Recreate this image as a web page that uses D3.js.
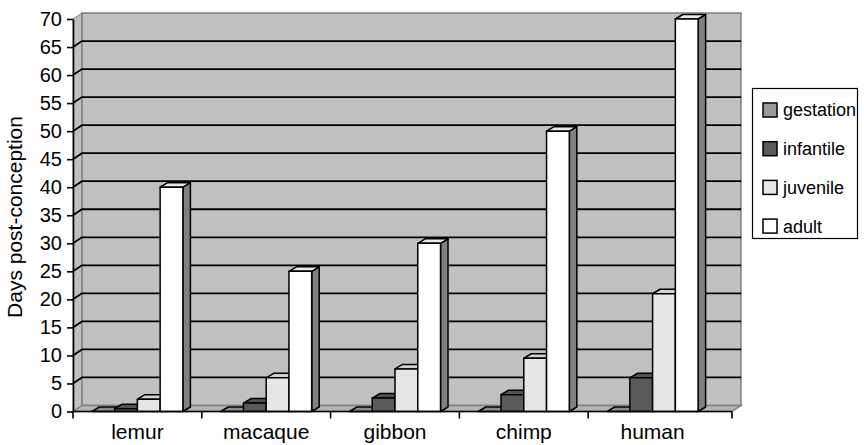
<!DOCTYPE html>
<html>
<head>
<meta charset="utf-8">
<script src="https://cdn.jsdelivr.net/npm/d3@7"></script>
<style>
  html, body { margin: 0; padding: 0; background: #fff; }
  svg { display: block; font-family: "Liberation Sans", Arial, Helvetica, sans-serif; }
</style>
</head>
<body>
<svg id="chart" width="864" height="445"></svg>
<script>
// Developmental stages (days post-conception) by primate
const categories = ["lemur", "macaque", "gibbon", "chimp", "human"];
const seriesNames = ["gestation", "infantile", "juvenile", "adult"];
const gestation = [0, 0, 0, 0, 0];
const infantile = [0.5, 1.5, 2.4, 3, 6];
const juvenile  = [2.2, 6, 7.6, 9.5, 21];
const adult     = [40, 25, 30, 50, 70];
const yTickValues = [0, 5, 10, 15, 20, 25, 30, 35, 40, 45, 50, 55, 60, 65, 70];

const seriesValues = [gestation, infantile, juvenile, adult];
const seriesColors = ["#9a9a9a", "#5a5a5a", "#e6e6e6", "#ffffff"];

const svg = d3.select("#chart");

// Plot frame (front plane) and 3-D depth offsets
const plotLeft = 73, bandRight = 717, floorRight = 732;
const wallDX = 9, wallDY = -6;     // back wall offset
const barDX = 7.5, barDY = -4.5;   // column depth

const y = d3.scaleLinear().domain([0, 70]).range([411.5, 19]);
const x0 = d3.scaleBand().domain(categories).range([plotLeft, bandRight]);
const x1 = d3.scaleBand().domain(seriesNames).range([0, x0.bandwidth()])
  .paddingInner(0).paddingOuter(0.83);

const yBase = y(0), yTop = y(70);

// Walls and floor
const walls = svg.append("g");
walls.append("polygon")
  .attr("points", [[plotLeft, yTop], [plotLeft + wallDX, yTop + wallDY], [plotLeft + wallDX, yBase + wallDY], [plotLeft, yBase]].join(" "))
  .attr("fill", "#c0c0c0").attr("stroke", "#808080").attr("stroke-width", 1);
walls.append("rect")
  .attr("x", plotLeft + wallDX).attr("y", yTop + wallDY)
  .attr("width", floorRight - plotLeft).attr("height", yBase - yTop)
  .attr("fill", "#c0c0c0").attr("stroke", "#808080").attr("stroke-width", 1.5);
walls.append("polygon")
  .attr("points", [[plotLeft, yBase], [floorRight, yBase], [floorRight + wallDX, yBase + wallDY], [plotLeft + wallDX, yBase + wallDY]].join(" "))
  .attr("fill", "#b4b4b4").attr("stroke", "#808080").attr("stroke-width", 1.5);

// Gridlines across side wall and back wall
walls.selectAll("path.grid")
  .data(yTickValues.filter(v => v > 0 && v < 70))
  .join("path")
  .attr("class", "grid")
  .attr("d", v => `M${plotLeft},${y(v)} L${plotLeft + wallDX},${y(v) + wallDY} L${floorRight + wallDX},${y(v) + wallDY}`)
  .attr("fill", "none").attr("stroke", "#000").attr("stroke-width", 1.8);

// 3-D columns: right side face, top face, front face
const bars = svg.append("g");
categories.forEach((cat, ci) => {
  seriesNames.forEach((s, si) => {
    const v = seriesValues[si][ci];
    const xa = x0(cat) + x1(s), xb = xa + x1.bandwidth();
    const yt = y(v);
    const c = d3.color(seriesColors[si]);
    const g = bars.append("g").attr("stroke", "#000").attr("stroke-width", 1.5).attr("stroke-linejoin", "round");
    g.append("polygon")
      .attr("points", [[xb, yt], [xb + barDX, yt + barDY], [xb + barDX, yBase + barDY], [xb, yBase]].join(" "))
      .attr("fill", c.darker(1.94).formatHex());
    g.append("polygon")
      .attr("points", [[xa, yt], [xb, yt], [xb + barDX, yt + barDY], [xa + barDX, yt + barDY]].join(" "))
      .attr("fill", c.darker(0.25).formatHex());
    if (yBase - yt > 0.5) {
      g.append("rect")
        .attr("x", xa).attr("y", yt).attr("width", xb - xa).attr("height", yBase - yt)
        .attr("fill", c.formatHex());
    }
  });
});

// Y axis
const yAxis = svg.append("g")
  .attr("transform", `translate(${plotLeft},0)`)
  .call(d3.axisLeft(y).tickValues(yTickValues).tickSize(6).tickSizeOuter(0).tickPadding(5));
yAxis.select(".domain").attr("stroke", "#000").attr("stroke-width", 1.6);
yAxis.selectAll(".tick line").attr("stroke", "#000").attr("stroke-width", 1.6);
yAxis.selectAll("text").attr("font-size", 20).attr("fill", "#000")
  .attr("font-family", "'Liberation Sans', Arial, sans-serif");

// X axis line, tick marks at category boundaries and floor end
svg.append("line")
  .attr("x1", plotLeft).attr("x2", floorRight).attr("y1", yBase).attr("y2", yBase)
  .attr("stroke", "#000").attr("stroke-width", 1.6);
const xTickPos = categories.map(c => x0(c)).concat([floorRight]);
svg.selectAll("line.xtick").data(xTickPos).join("line")
  .attr("class", "xtick")
  .attr("x1", d => d).attr("x2", d => d).attr("y1", yBase).attr("y2", yBase + 7)
  .attr("stroke", "#000").attr("stroke-width", 1.6);

const xAxis = svg.append("g")
  .attr("transform", `translate(0,${yBase})`)
  .call(d3.axisBottom(x0).tickSize(0).tickPadding(13));
xAxis.select(".domain").remove();
xAxis.selectAll("text").attr("font-size", 21).attr("fill", "#000")
  .attr("font-family", "'Liberation Sans', Arial, sans-serif");

// Y axis title
svg.append("text")
  .attr("transform", "translate(22,217) rotate(-90)")
  .attr("text-anchor", "middle")
  .attr("font-size", 21)
  .text("Days post-conception");

// Legend
const legend = svg.append("g");
legend.append("rect")
  .attr("x", 752.5).attr("y", 88.5).attr("width", 105).attr("height", 150)
  .attr("fill", "#fff").attr("stroke", "#000").attr("stroke-width", 1.2);
const items = legend.selectAll("g.item").data(seriesNames).join("g")
  .attr("class", "item")
  .attr("transform", (d, i) => `translate(763,${110 + i * 38.7})`);
items.append("rect")
  .attr("x", 0).attr("y", -7).attr("width", 14).attr("height", 14)
  .attr("fill", (d, i) => seriesColors[i]).attr("stroke", "#000").attr("stroke-width", 1.5);
items.append("text")
  .attr("x", 20).attr("y", 0).attr("dy", "0.36em")
  .attr("font-size", 18)
  .text(d => d);
</script>
</body>
</html>
